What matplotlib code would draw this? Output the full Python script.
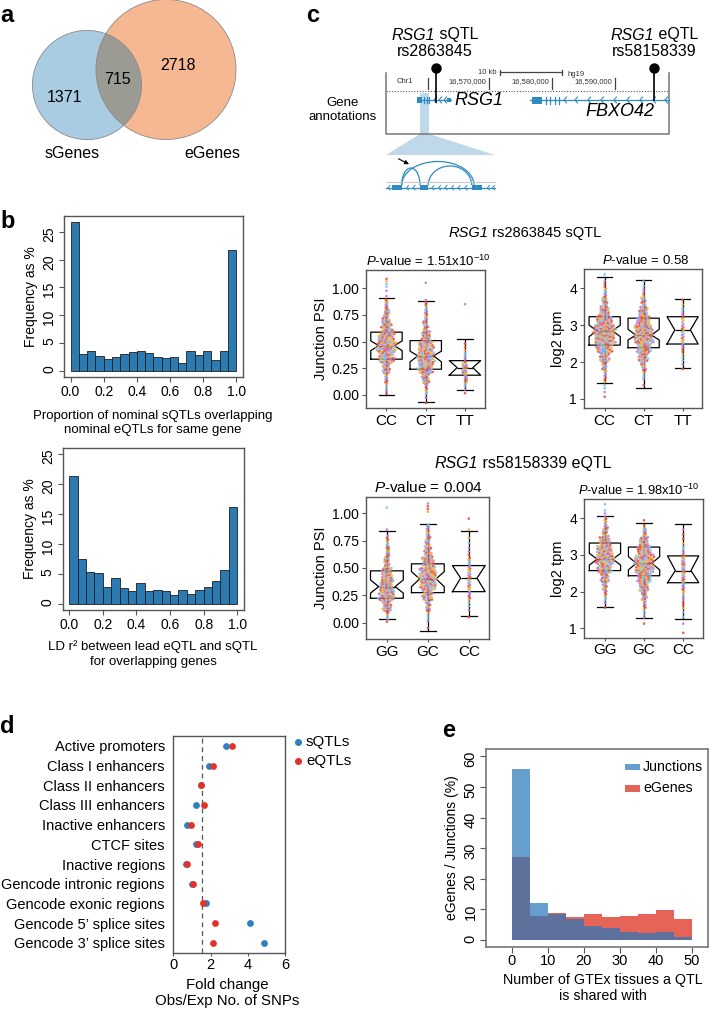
import numpy as np
import matplotlib
matplotlib.use('Agg')
import matplotlib.pyplot as plt
from matplotlib.patches import Circle, Rectangle, Polygon, Arc

plt.rcParams['font.family'] = ['Liberation Sans', 'DejaVu Sans']
plt.rcParams['mathtext.fontset'] = 'custom'
plt.rcParams['mathtext.rm'] = 'Liberation Sans'
plt.rcParams['mathtext.it'] = 'Liberation Sans:italic'

# ---- data ----
venn_s_only, venn_both, venn_e_only = 1371, 715, 2718

hist_edges = np.round(np.arange(0, 1.0001, 0.05), 2)
overlap_prop = [26.9, 3.0, 3.6, 2.7, 2.1, 2.4, 3.0, 3.3, 3.5, 3.2,
                2.5, 2.3, 2.5, 1.45, 3.6, 2.9, 3.5, 2.0, 3.6, 21.7]
ld_r2 = [21.2, 7.5, 5.3, 5.2, 2.9, 4.4, 2.6, 2.1, 3.5, 2.1,
         2.4, 2.1, 1.5, 2.4, 1.7, 2.4, 2.9, 3.9, 5.7, 16.1]

# box stats: whislo, q1, med, q3, whishi, cilo, cihi
sqtl_genos = ['CC', 'CT', 'TT']
sqtl_psi_box = [[0.0, 0.335, 0.462, 0.588, 0.912, 0.415, 0.506],
                [-0.063, 0.241, 0.366, 0.509, 0.884, 0.31, 0.41],
                [0.047, 0.185, 0.256, 0.321, 0.522, 0.185, 0.321]]
sqtl_tpm_box = [[1.44, 2.46, 2.85, 3.23, 4.31, 2.69, 3.0],
                [1.29, 2.39, 2.73, 3.19, 4.22, 2.60, 2.89],
                [1.83, 2.49, 2.87, 3.23, 3.70, 2.49, 3.23]]
eqtl_genos = ['GG', 'GC', 'CC']
eqtl_psi_box = [[0.031, 0.223, 0.329, 0.473, 0.838, 0.27, 0.39],
                [-0.076, 0.274, 0.40, 0.537, 0.902, 0.329, 0.466],
                [0.061, 0.283, 0.406, 0.521, 0.838, 0.283, 0.521]]
eqtl_tpm_box = [[1.59, 2.57, 2.88, 3.32, 4.06, 2.72, 3.04],
                [1.27, 2.43, 2.77, 3.21, 3.86, 2.59, 2.95],
                [1.25, 2.24, 2.57, 2.97, 3.84, 2.24, 2.97]]

# sample counts per bin for the dot swarms
psi_bins = np.round(np.arange(-0.1, 1.1001, 0.1), 2)
sqtl_psi_counts = [[0, 4, 8, 18, 35, 48, 40, 25, 15, 8, 2, 4],
                   [2, 6, 18, 35, 40, 35, 22, 12, 8, 5, 0, 1],
                   [0, 3, 8, 14, 5, 3, 0, 0, 0, 1, 0, 0]]
eqtl_psi_counts = [[0, 6, 22, 38, 35, 25, 15, 10, 6, 1, 0, 1],
                   [1, 4, 12, 25, 40, 42, 30, 18, 12, 8, 0, 4],
                   [0, 1, 3, 6, 8, 8, 6, 3, 2, 1, 1, 0]]
tpm_bins = np.round(np.arange(0.75, 4.5001, 0.25), 2)
sqtl_tpm_counts = [[0, 2, 3, 5, 10, 20, 32, 42, 45, 35, 20, 12, 6, 3, 1],
                   [0, 0, 1, 4, 10, 20, 30, 40, 38, 28, 18, 10, 4, 2, 0],
                   [0, 0, 0, 0, 2, 3, 4, 6, 6, 5, 4, 2, 0, 0, 0]]
eqtl_tpm_counts = [[0, 0, 0, 2, 5, 10, 18, 30, 38, 32, 22, 12, 6, 3, 1],
                   [0, 1, 3, 6, 12, 20, 30, 38, 40, 30, 18, 8, 2, 0, 0],
                   [1, 1, 2, 3, 4, 6, 7, 8, 7, 4, 2, 2, 0, 0, 0]]

annot_labels = ['Active promoters', 'Class I enhancers', 'Class II enhancers',
                'Class III enhancers', 'Inactive enhancers', 'CTCF sites',
                'Inactive regions', 'Gencode intronic regions',
                'Gencode exonic regions', 'Gencode 5\u2019 splice sites',
                'Gencode 3\u2019 splice sites']
fc_sqtl = [2.81, 1.92, 1.50, 1.20, 0.75, 1.22, 0.67, 1.03, 1.77, 4.12, 4.88]
fc_eqtl = [3.14, 2.15, 1.51, 1.63, 0.94, 1.33, 0.75, 1.04, 1.60, 2.24, 2.12]
fc_null = 1.53

share_edges = np.arange(0, 50, 5)
share_junctions = [55.8, 12.0, 8.5, 6.9, 4.6, 3.8, 2.6, 2.2, 2.6, 1.0]
share_egenes = [27.1, 7.8, 8.8, 7.4, 8.4, 7.6, 7.8, 8.4, 9.7, 7.0]

palette = ['#e9553d', '#f3b02c', '#7cc4ec', '#c07fdc']

# ---- figure ----
W, H = 712, 1010
fig = plt.figure(figsize=(W / 100, H / 100), dpi=100)
renderer = fig.canvas.get_renderer()


def px_axes(l, t, r, b):
    return fig.add_axes([l / W, 1 - b / H, (r - l) / W, (b - t) / H])


def style_frame(ax, col='#555555', lw=1.0):
    for s in ax.spines.values():
        s.set_color(col)
        s.set_linewidth(lw)


def swarm(ax, pos, edges, counts, yscale, xscale, d=2.1):
    ys = []
    for lo, hi, n in zip(edges[:-1], edges[1:], counts):
        for j in range(n):
            ys.append(lo + (hi - lo) * (j + 0.5) / n)
    ys = np.array(ys)
    xs = np.zeros(len(ys))
    placed = []
    for i in np.argsort(ys):
        yp = ys[i] * yscale
        near = [(x, y) for x, y in placed if abs(y - yp) < d]
        cands = [0.0]
        for x, y in near:
            dx = np.sqrt(d * d - (y - yp) ** 2)
            cands += [x + dx, x - dx]
        cands.sort(key=abs)
        for c in cands:
            if all((c - x) ** 2 + (y - yp) ** 2 >= d * d - 1e-6 for x, y in near):
                break
        xs[i] = c
        placed.append((c, yp))
    cols = [palette[((k * 2654435761) >> 7) % 4] for k in range(len(ys))]
    ax.scatter(pos + xs / xscale, ys, s=3.6, c=cols, linewidths=0, alpha=0.9, zorder=3)


def box_panel(ax, stats, counts, edges, genos, ylim, xlim, yticks, ylabels, ylab, frame_px):
    ax.set_xlim(*xlim)
    ax.set_ylim(*ylim)
    wpx = frame_px[2] - frame_px[0]
    hpx = frame_px[3] - frame_px[1]
    xscale = wpx / (xlim[1] - xlim[0])
    yscale = hpx / (ylim[1] - ylim[0])
    bx = [dict(whislo=s[0], q1=s[1], med=s[2], q3=s[3], whishi=s[4],
               cilo=s[5], cihi=s[6], fliers=[]) for s in stats]
    lp = dict(color='black', lw=0.9)
    ax.bxp(bx, positions=[1, 2, 3], widths=0.8, shownotches=True, showfliers=False,
           capwidths=0.4, boxprops=lp, whiskerprops=lp, capprops=lp, medianprops=lp)
    for i, c in enumerate(counts):
        swarm(ax, i + 1, edges, c, yscale, xscale)
    ax.set_xticks([1, 2, 3])
    ax.set_xticklabels(genos, fontsize=11)
    ax.set_yticks(yticks)
    ax.set_yticklabels(ylabels, fontsize=10)
    ax.tick_params(axis='x', length=2, pad=2, color='#555555')
    ax.tick_params(axis='y', length=3, pad=2, color='#555555')
    ax.set_ylabel(ylab, fontsize=10.5, labelpad=3)
    style_frame(ax)


# overlay for schematic elements
ov = fig.add_axes([0, 0, 1, 1])
ov.set_xlim(0, W)
ov.set_ylim(H, 0)
ov.axis('off')
ov.patch.set_alpha(0)
ov.set_zorder(10)


def mixed_text(xc, y, parts, fontsize):
    # parts: list of (string, italic); centred on xc in overlay pixel coords
    arts = []
    for s, it in parts:
        t = ov.text(0, y, s, fontsize=fontsize, style='italic' if it else 'normal',
                    ha='left', va='center')
        arts.append(t)
    widths = [a.get_window_extent(renderer).width for a in arts]
    x = xc - sum(widths) / 2
    for a, w in zip(arts, widths):
        a.set_x(x)
        x += w


# panel labels
for lab, x, y in [('a', 0, 22), ('b', 0, 228), ('c', 306, 22), ('d', 0, 733), ('e', 442, 737)]:
    ov.text(x, y, lab, fontsize=17, fontweight='bold', va='baseline', ha='left')

# ---- a: venn ----
k = 1.195
r_s = k * np.sqrt(venn_s_only + venn_both)
r_e = k * np.sqrt(venn_e_only + venn_both)
cs, ce = (87, 85), (166, 69.5)
ov.add_patch(Circle(cs, r_s, fc='#a9cce2', ec='none'))
ov.add_patch(Circle(ce, r_e, fc='#f6b893', ec='none'))
clipc = Circle(ce, r_e, transform=ov.transData)
inter = Circle(cs, r_s, fc='#9b9b93', ec='none')
ov.add_patch(inter)
inter.set_clip_path(clipc)
ov.add_patch(Circle(cs, r_s, fc='none', ec='#8a8a8a', lw=0.6))
ov.add_patch(Circle(ce, r_e, fc='none', ec='#8a8a8a', lw=0.6))
ov.text(65, 98, str(venn_s_only), fontsize=11.5, ha='center', va='center')
ov.text(117, 80, str(venn_both), fontsize=11.5, ha='center', va='center')
ov.text(178, 65, str(venn_e_only), fontsize=11.5, ha='center', va='center')
ov.text(72, 154, 'sGenes', fontsize=11.5, ha='center', va='center')
ov.text(212, 154, 'eGenes', fontsize=11.5, ha='center', va='center')

# ---- b: histograms ----
for vals, frame, ylim, xlab, ylab_y in [
        (overlap_prop, (64, 216, 242.7, 377), (-1.15, 27.9),
         'Proportion of nominal sQTLs overlapping\nnominal eQTLs for same gene', 423),
        (ld_r2, (62.5, 447.5, 244, 610), (-1.0, 26.0),
         'LD r\u00b2 between lead eQTL and sQTL\nfor overlapping genes', 654)]:
    ax = px_axes(*frame)
    ax.bar(hist_edges[:-1], vals, width=0.05, align='edge', color='#2b7bb2',
           edgecolor='#1e1e1e', lw=0.6)
    ax.set_xlim(-0.04, 1.04)
    ax.set_ylim(*ylim)
    ax.set_xticks([0, 0.2, 0.4, 0.6, 0.8, 1.0])
    ax.set_xticklabels(['0.0', '0.2', '0.4', '0.6', '0.8', '1.0'], fontsize=10)
    ax.set_yticks([0, 5, 10, 15, 20, 25])
    ax.tick_params(axis='y', labelrotation=90, labelsize=10, length=3.5, pad=2, color='#555555')
    ax.tick_params(axis='x', length=3.5, pad=2, color='#555555')
    ax.set_ylabel('Frequency as %', fontsize=10, labelpad=3)
    style_frame(ax)
    ov.text(153, ylab_y, xlab, fontsize=9.5, ha='center', va='center', linespacing=1.25)

# ---- c: schematic ----
gc = '#2e8ac0'


def chevrons(xs, y, h=3.0, w=2.5, lw=0.8):
    for x in xs:
        ov.plot([x + w, x, x + w], [y - h, y, y + h], color=gc, lw=lw)


ov.text(343, 110, 'Gene\nannotations', fontsize=9.5, ha='center', va='center', linespacing=1.2)
ov.plot([386, 386, 669.3, 669.3], [72.7, 134, 134, 72.7], color='#777777', lw=1.1)
ov.plot([386, 669.3], [91, 91], color='#555555', lw=0.8, ls=(0, (1, 1.5)))
ov.add_patch(Rectangle((420, 93), 9.3, 41, fc='#bfd9eb', ec='none', zorder=1))
ov.add_patch(Polygon([(420, 134), (429.3, 134), (495, 155), (386, 155)],
                     closed=True, fc='#bfd9eb', ec='none', zorder=1))
ov.text(405, 81.7, 'Chr1', fontsize=5.5, ha='center', va='center', color='#333333')
for tx, lab in [(427.7, None), (489.3, '16,570,000'), (552.3, '16,580,000'), (615, '16,590,000')]:
    ov.plot([tx, tx], [78, 89], color='#444444', lw=0.9)
    if lab:
        ov.text(tx - 3, 81.7, lab, fontsize=5.5, ha='right', va='center', color='#333333')
ov.text(497, 72.3, '10 kb', fontsize=5.5, ha='right', va='center', color='#333333')
ov.plot([500, 561.7], [72.3, 72.3], color='#444444', lw=0.9)
ov.plot([500, 500], [69.5, 75], color='#444444', lw=0.9)
ov.plot([561.7, 561.7], [69.5, 75], color='#444444', lw=0.9)
ov.text(568, 74.5, 'hg19', fontsize=5.5, ha='left', va='center', color='#333333')

# RSG1
ov.plot([416.5, 451], [100, 100], color=gc, lw=0.9, zorder=3)
ov.add_patch(Rectangle((416.5, 97), 5, 6, fc=gc, ec='none', zorder=3))
for tx in [424, 426.5, 429]:
    ov.plot([tx, tx], [97, 103], color=gc, lw=0.9, zorder=3)
chevrons([434, 439, 444], 100)
ov.add_patch(Rectangle((446.5, 98), 4, 4, fc=gc, ec='none', zorder=3))
ov.text(454, 100.5, 'RSG1', fontsize=13, style='italic', ha='left', va='center')
# FBXO42
ov.plot([530, 669.3], [100, 100], color=gc, lw=0.9)
ov.add_patch(Rectangle((532, 96.5), 10, 7, fc=gc, ec='none'))
for tx in [546, 550, 555, 559]:
    ov.plot([tx, tx], [96.5, 103.5], color=gc, lw=0.9)
chevrons([564, 575, 588, 601, 614, 627, 640, 653, 665], 100)
ov.text(620, 112, 'FBXO42', fontsize=13, style='italic', ha='center', va='center')

# lollipops
for x, top, bot in [(436, 67.7, 101.7), (654, 67.7, 100)]:
    ov.plot([x, x], [top, bot], color='black', lw=1.2, zorder=4)
    ov.plot([x], [top], 'o', color='black', ms=6.5, zorder=4)
mixed_text(435, 35, [('RSG1', True), (' sQTL', False)], 11.5)
ov.text(435, 52, 'rs2863845', fontsize=11.5, ha='center', va='center')
mixed_text(654, 35, [('RSG1', True), (' eQTL', False)], 11.5)
ov.text(654, 52, 'rs58158339', fontsize=11.5, ha='center', va='center')

# zoomed junction inset
ov.plot([386, 495], [181.7, 181.7], color='#c8c8c8', lw=0.8)
ov.plot([386, 495], [187.7, 187.7], color=gc, lw=0.9)
for x0, w in [(391.7, 10), (420, 8.3), (471.7, 10)]:
    ov.add_patch(Rectangle((x0, 185.2), w, 5, fc=gc, ec='none'))
chevrons([388, 406.5, 413, 432, 438.5, 445, 451.5, 458, 465, 487.5, 492.5], 187.7, h=2.2, w=2.0, lw=0.7)
for x0, x1, peak in [(401.7, 420, 168), (428.3, 471.7, 166), (401.7, 474, 161.5)]:
    hgt = 2 * (185 - peak)
    ov.add_patch(Arc(((x0 + x1) / 2, 185), x1 - x0, hgt, theta1=180, theta2=360,
                     color=gc, lw=0.9))
ov.annotate('', xy=(411.5, 165.5), xytext=(396, 157.5),
            arrowprops=dict(arrowstyle='-|>', color='black', lw=0.8, mutation_scale=6))

# boxplot titles
mixed_text(525, 233.3, [('RSG1', True), (' rs2863845 sQTL', False)], 10.5)
mixed_text(523, 463.3, [('RSG1', True), (' rs58158339 eQTL', False)], 11.5)
ov.text(428, 261, '$\\mathit{P}$-value = 1.51x10$^{-10}$', fontsize=9.5, ha='center', va='center')
ov.text(646, 261, '$\\mathit{P}$-value = 0.58', fontsize=9.5, ha='center', va='center')
ov.text(428.3, 487.3, '$\\mathit{P}$-value = 0.004', fontsize=11, ha='center', va='center')
ov.text(638.3, 490, '$\\mathit{P}$-value = 1.98x10$^{-10}$', fontsize=9.3, ha='center', va='center')

psi_ticks = [0, 0.25, 0.5, 0.75, 1.0]
psi_labs = ['0.00', '0.25', '0.50', '0.75', '1.00']
tpm_ticks = [1, 2, 3, 4]
tpm_labs = ['1', '2', '3', '4']

fr = (366, 270, 485, 408.3)
box_panel(px_axes(*fr), sqtl_psi_box, sqtl_psi_counts, psi_bins, sqtl_genos,
          (-0.125, 1.17), (0.478, 3.51), psi_ticks, psi_labs, 'Junction PSI', fr)
fr = (584, 269.3, 701.7, 408)
box_panel(px_axes(*fr), sqtl_tpm_box, sqtl_tpm_counts, tpm_bins, sqtl_genos,
          (0.756, 4.515), (0.47, 3.49), tpm_ticks, tpm_labs, 'log2 tpm', fr)
fr = (366, 496.7, 489.3, 639.3)
box_panel(px_axes(*fr), eqtl_psi_box, eqtl_psi_counts, psi_bins, eqtl_genos,
          (-0.152, 1.15), (0.49, 3.5), psi_ticks, psi_labs, 'Junction PSI', fr)
fr = (584, 499.3, 702.7, 637.7)
box_panel(px_axes(*fr), eqtl_tpm_box, eqtl_tpm_counts, tpm_bins, eqtl_genos,
          (0.744, 4.51), (0.464, 3.50), tpm_ticks, tpm_labs, 'log2 tpm', fr)

# ---- d: enrichment dots ----
axd = px_axes(173.3, 736, 285, 952.7)
yy = np.arange(len(annot_labels))
axd.axvline(fc_null, color='#555555', lw=0.9, ls=(0, (4, 3)), zorder=1)
axd.scatter(fc_sqtl, yy, s=24, color='#2f7fc1', linewidths=0, zorder=3)
axd.scatter(fc_eqtl, yy, s=24, color='#e2332a', linewidths=0, zorder=4)
axd.set_xlim(0, 6)
axd.set_ylim(10.5, -0.5)
axd.set_yticks(yy)
axd.set_yticklabels(annot_labels, fontsize=10.5)
axd.set_xticks([0, 2, 4, 6])
axd.tick_params(axis='x', labelsize=10.5, length=2.5, pad=1.5, color='#555555')
axd.tick_params(axis='y', length=0, pad=6)
style_frame(axd)
ov.text(227, 993, 'Fold change\nObs/Exp No. of SNPs', fontsize=10.8, ha='center', va='center', linespacing=1.2)
ov.scatter([298.3], [741.7], s=26, color='#2f7fc1', linewidths=0)
ov.scatter([298.3], [761], s=26, color='#e2332a', linewidths=0)
ov.text(306, 741.7, 'sQTLs', fontsize=10.8, ha='left', va='center')
ov.text(306, 761, 'eQTLs', fontsize=10.8, ha='left', va='center')

# ---- e: sharing histogram ----
axe = px_axes(486, 749, 708.3, 946.7)
red_c, red_a = '#df3d2d', 0.8
blue_c, blue_a = '#2577ba', 0.7
axe.bar(share_edges, share_egenes, width=5, align='edge', color=red_c, alpha=red_a, lw=0)
axe.bar(share_edges, share_junctions, width=5, align='edge', color=blue_c, alpha=blue_a, lw=0)
axe.set_xlim(-7.1, 54.6)
axe.set_ylim(-2.2, 62.4)
axe.set_xticks([0, 10, 20, 30, 40, 50])
axe.set_yticks([0, 10, 20, 30, 40, 50, 60])
axe.tick_params(axis='y', labelrotation=90, labelsize=10.5, length=4, pad=2, color='#555555')
axe.tick_params(axis='x', labelsize=10.5, length=4, pad=1.5, color='#555555')
axe.set_ylabel('eGenes / Junctions (%)', fontsize=10, labelpad=3)
style_frame(axe, col='#777777', lw=1.2)
ov.add_patch(Rectangle((625, 763.5), 15, 6.5, fc=blue_c, alpha=blue_a, ec='none'))
ov.add_patch(Rectangle((625, 785), 15, 6.5, fc=red_c, alpha=red_a, ec='none'))
ov.text(643, 766.7, 'Junctions', fontsize=10.2, ha='left', va='center')
ov.text(643, 788.3, 'eGenes', fontsize=10.2, ha='left', va='center')
ov.text(603, 988, 'Number of GTEx tissues a QTL\nis shared with', fontsize=10.3,
        ha='center', va='center', linespacing=1.2)

fig.savefig('out.png', dpi=100)
